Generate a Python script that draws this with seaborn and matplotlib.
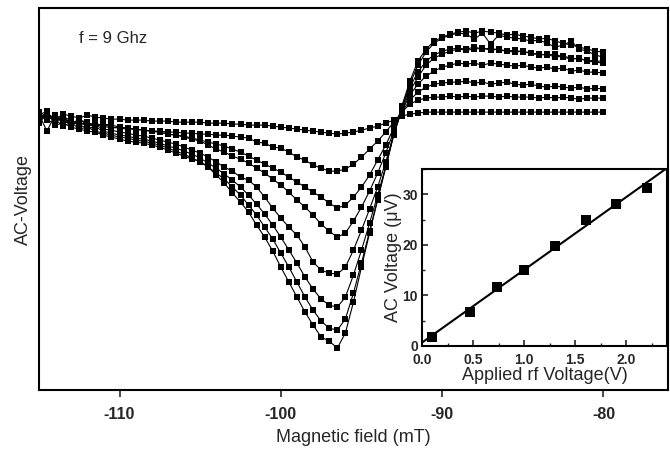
import numpy as np
import pandas as pd
import matplotlib
matplotlib.use("Agg")
import matplotlib.pyplot as plt
from matplotlib.ticker import MultipleLocator
import seaborn as sns

# ---------------- data ----------------
field = [-115.0, -114.5, -114.0, -113.5, -113.0, -112.5, -112.0, -111.5, -111.0, -110.5,
         -110.0, -109.5, -109.0, -108.5, -108.0, -107.5, -107.0, -106.5, -106.0, -105.5,
         -105.0, -104.5, -104.0, -103.5, -103.0, -102.5, -102.0, -101.5, -101.0, -100.5,
         -100.0, -99.5, -99.0, -98.5, -98.0, -97.5, -97.0, -96.5, -96.0, -95.5,
         -95.0, -94.5, -94.0, -93.5, -93.0, -92.5, -92.0, -91.5, -91.0, -90.5,
         -90.0, -89.5, -89.0, -88.5, -88.0, -87.5, -87.0, -86.5, -86.0, -85.5,
         -85.0, -84.5, -84.0, -83.5, -83.0, -82.5, -82.0, -81.5, -81.0, -80.5,
         -80.0]

c1 = [0, 4, -2, 3, 1, -1, 2, 0, -1, -2,
      -2, -3, -3, -3, -4, -4, -4, -5, -5, -5,
      -5, -6, -6, -6, -7, -7, -8, -8, -8, -9,
      -10, -11, -12, -13, -14, -15, -16, -17, -16, -15,
      -13, -11, -9, -6, -3, 1, 3, 4, 5, 5,
      5, 5, 5, 5, 5, 5, 5, 5, 5, 5,
      5, 5, 5, 5, 5, 5, 5, 5, 5, 5, 5]
c2 = [2, -3, -6, 1, -4, -8, -5, -9, -7, -10,
      -11, -12, -12, -13, -14, -14, -15, -15, -16, -16,
      -17, -17, -18, -18, -19, -20, -21, -25, -26, -30,
      -31, -35, -40, -43, -48, -51, -54, -54, -52, -47,
      -40, -32, -24, -15, -5, 5, 13, 17, 19, 20,
      20, 21, 20, 21, 20, 21, 21, 20, 21, 20,
      20, 20, 19, 20, 19, 20, 19, 18, 19, 19, 19]
c3 = [-2, 5, -4, 0, -6, -3, -5, -9, -7, -8,
      -10, -11, -12, -13, -14, -15, -17, -18, -19, -21,
      -23, -25, -27, -29, -32, -35, -39, -43, -47, -51,
      -55, -60, -65, -70, -75, -80, -86, -91, -88, -80,
      -70, -58, -43, -28, -11, 5, 17, 25, 30, 33,
      34, 35, 35, 36, 34, 35, 33, 34, 35, 33,
      32, 33, 31, 30, 31, 30, 29, 30, 28, 29, 28]
c4 = [3, -14, 2, -3, -7, -2, -8, -6, -9, -11,
      -10, -11, -12, -13, -14, -15, -17, -18, -20, -22,
      -24, -28, -32, -35, -39, -42, -46, -51, -56, -62,
      -68, -75, -83, -90, -98, -107, -114, -120, -116, -104,
      -90, -74, -56, -36, -14, 6, 22, 33, 41, 46,
      50, 52, 54, 53, 54, 52, 54, 53, 52, 51,
      52, 50, 49, 50, 48, 49, 46, 47, 45, 45, 44]
c5 = [-4, 4, -2, -1, -7, -5, -9, -8, -12, -13,
      -15, -16, -18, -19, -21, -23, -25, -27, -30, -33,
      -36, -40, -45, -50, -54, -60, -63, -70, -80, -91,
      -101, -110, -118, -130, -145, -153, -156, -157, -150, -133,
      -113, -92, -70, -45, -17, 7, 26, 40, 52, 59,
      63, 66, 68, 67, 68, 69, 67, 68, 66, 65,
      66, 64, 63, 62, 63, 60, 58, 59, 56, 55, 54]
c6 = [5, -3, 1, -6, -4, -8, -11, -10, -14, -16,
      -18, -19, -21, -22, -24, -26, -29, -31, -34, -37,
      -41, -46, -51, -57, -63, -70, -78, -87, -97, -108,
      -120, -133, -146, -160, -172, -182, -188, -190, -180, -158,
      -133, -106, -78, -50, -18, 8, 30, 45, 56, 62,
      66, 68, 69, 68, 70, 68, 69, 67, 66, 67,
      65, 64, 62, 63, 60, 61, 59, 58, 57, 56, 56]
c7 = [-6, 3, -2, -9, -5, -12, -10, -14, -16, -18,
      -20, -21, -23, -24, -26, -28, -31, -34, -37, -41,
      -45, -50, -56, -62, -70, -78, -88, -98, -110, -122,
      -136, -150, -165, -180, -193, -204, -211, -213, -202, -176,
      -146, -114, -82, -50, -17, 9, 33, 52, 65, 74,
      79, 82, 84, 83, 78, 84, 73, 82, 80, 79,
      78, 76, 77, 74, 70, 72, 76, 68, 66, 62, 60]
c8 = [2, 6, -8, -6, -10, -12, -14, -15, -18, -20,
      -22, -24, -25, -26, -28, -30, -33, -36, -39, -42,
      -44, -50, -58, -66, -76, -85, -95, -108, -120, -134,
      -150, -165, -180, -195, -208, -220, -224, -231, -216, -185,
      -150, -116, -83, -50, -16, 11, 36, 56, 68, 76,
      80, 83, 85, 86, 84, 86, 85, 84, 82, 83,
      81, 80, 78, 79, 76, 74, 72, 70, 68, 66, 65]
curves = {"c1": c1, "c2": c2, "c3": c3, "c4": c4,
          "c5": c5, "c6": c6, "c7": c7, "c8": c8}

rf_voltage = [0.1, 0.47, 0.73, 1.0, 1.3, 1.6, 1.9, 2.2]
ac_voltage = [1.8, 6.8, 11.7, 15.1, 19.7, 25.0, 28.0, 31.3]

main_xticks = [-110, -100, -90, -80]

# ---------------- plot ----------------
sns.set_style("ticks")
plt.rcParams["font.family"] = ["Liberation Sans", "DejaVu Sans"]

fig = plt.figure(figsize=(6.7, 4.51), dpi=100)
ax = fig.add_axes([0.058, 0.135, 0.939, 0.847])

df = pd.concat([pd.DataFrame({"field": field, "v": vals, "curve": name})
                for name, vals in curves.items()], ignore_index=True)
sns.lineplot(data=df, x="field", y="v", units="curve", estimator=None,
             color="black", lw=0.8, marker="s", markersize=3.8,
             markeredgewidth=0, sort=False, legend=False, ax=ax)

ax.set_xlim(-115, -76)
ax.set_ylim(-273, 109)
ax.set_xticks(main_xticks)
ax.set_xticklabels([str(t) for t in main_xticks], fontweight="bold", fontsize=11.5)
ax.set_yticks([])
ax.tick_params(axis="x", direction="out", length=5, width=1.2, pad=7)
for s in ax.spines.values():
    s.set_visible(True)
    s.set_linewidth(1.5)
    s.set_color("black")
ax.set_xlabel("Magnetic field (mT)", fontsize=13, labelpad=5)
ax.set_ylabel("AC-Voltage", fontsize=13, labelpad=5)
ax.text(0.064, 0.92, "f = 9 Ghz", transform=ax.transAxes, fontsize=12,
        ha="left", va="center")

# inset
ax2 = fig.add_axes([0.630, 0.233, 0.366, 0.392])
ax2.set_xlim(0, 2.4)
ax2.set_ylim(0, 35)
sns.regplot(x=rf_voltage, y=ac_voltage, ci=None, truncate=False, ax=ax2,
            marker="s", color="black",
            scatter_kws={"s": 55, "linewidths": 0, "alpha": 1},
            line_kws={"lw": 1.5})
ax2.set_xlim(0, 2.4)
ax2.set_ylim(0, 35)
ax2.set_xticks([0.0, 0.5, 1.0, 1.5, 2.0])
ax2.set_xticklabels(["0.0", "0.5", "1.0", "1.5", "2.0"], fontweight="bold", fontsize=10)
ax2.set_yticks([0, 10, 20, 30])
ax2.set_yticklabels(["0", "10", "20", "30"], fontweight="bold", fontsize=10)
ax2.xaxis.set_minor_locator(MultipleLocator(0.25))
ax2.yaxis.set_minor_locator(MultipleLocator(5))
ax2.tick_params(which="major", direction="in", length=4, width=1.2)
ax2.tick_params(axis="x", which="major", pad=5)
ax2.tick_params(axis="y", which="major", pad=3)
ax2.tick_params(which="minor", direction="in", length=2.5, width=1.0)
for s in ax2.spines.values():
    s.set_visible(True)
    s.set_linewidth(1.5)
    s.set_color("black")
ax2.set_xlabel("Applied rf Voltage(V)", fontsize=13, labelpad=0)
ax2.set_ylabel("AC Voltage (\u03bcV)", fontsize=13, labelpad=0)

fig.savefig("out.png", dpi=100)
